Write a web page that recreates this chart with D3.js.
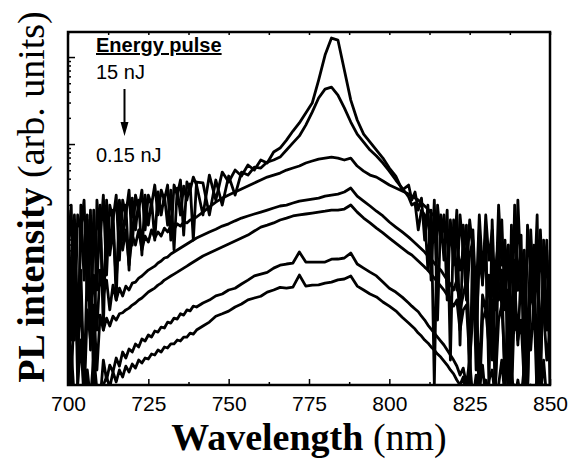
<!DOCTYPE html>
<html>
<head>
<meta charset="utf-8">
<script src="https://cdn.jsdelivr.net/npm/d3@7"></script>
<style>
  body { margin: 0; background: #fff; }
  svg { display: block; }
  .tick text { font-family: "Liberation Sans", Arial, sans-serif; }
</style>
</head>
<body>
<div id="chart"></div>
<script>
// wavelength grid (nm): 1 nm in the noisy wings, 2 nm in the middle
const wavelengths = [700,701,702,703,704,705,706,707,708,709,710,711,712,713,714,715,716,717,718,719,720,
  721,722,723,724,725,726,727,728,729,730,731,732,733,734,735,736,737,738,739,740,
  742,744,746,748,750,752,754,756,758,760,762,764,766,768,770,772,774,776,778,780,
  782,784,786,788,790,792,794,796,798,800,802,804,
  806,807,808,809,810,811,812,813,814,815,816,817,818,819,820,821,822,823,824,825,826,827,828,
  829,830,831,832,833,834,835,836,837,838,839,840,841,842,843,844,845,846,847,848,849,850];

// PL intensity (arb. units), from 15 nJ (curve1) down to 0.15 nJ (curve7)
const curve1 = [6.05,19.9,0.559,15.3,10.3,22.7,1.61,17.4,0.114,22.7,7.88,25.9,3.12,19.9,13.4,25.9,4.64,22.7,15.3,29.6,6.90,
  25.9,17.4,29.6,10.3,25.9,19.9,33.8,15.3,29.6,22.7,33.8,7.88,33.8,25.9,38.6,8.99,36.6,29.6,41.7,33.8,
  15.3,44.0,22.7,47.6,36.6,50.2,42.9,57.4,50.2,65.5,60.5,80.9,90.0,111,141,175,227,296,544,1054,
  1653,1567,709,320,189,130,105,85.3,69.0,53.0,42.9,29.6,
  33.8,22.7,28.1,17.4,23.9,7.88,19.9,2.73,22.7,0.948,15.3,4.64,17.4,0.329,13.4,2.10,15.3,6.05,11.7,0.114,10.3,1.61,15.3,
  3.56,8.99,0.170,13.4,1.24,19.9,4.06,7.88,0.114,11.7,0.728,22.7,2.73,6.05,0.329,10.3,1.61,15.3,0.114,7.88,0.948,4.64];
const curve2 = [17.4,0.948,13.4,0.170,19.9,2.73,15.3,0.429,17.4,2.10,19.9,0.728,22.7,6.05,17.4,1.61,22.7,7.88,19.9,3.56,23.9,
  10.3,22.7,5.30,25.9,11.7,22.7,7.88,28.1,15.3,25.9,11.7,29.6,6.05,31.2,15.3,32.9,22.7,34.7,7.88,36.6,
  35.7,15.3,38.6,19.9,42.9,25.9,47.6,44.0,54.4,53.0,62.1,65.5,70.8,85.3,103,124,165,233,338,428,
  451,366,260,179,130,105,85.3,72.8,60.5,48.9,38.6,31.2,
  24.6,19.9,21.0,10.3,17.4,15.3,3.56,17.4,0.170,19.9,7.88,15.3,1.61,13.4,4.06,17.4,0.490,11.7,2.73,13.4,6.05,0.253,10.3,
  2.39,15.3,4.64,10.3,0.114,7.88,13.4,1.24,6.90,0.429,19.9,2.10,8.99,0.114,11.7,3.56,6.90,0.194,10.3,1.61,7.88,0.170];
const curve3 = [10.3,2.10,15.3,0.429,11.7,4.64,13.4,0.948,10.3,3.56,11.7,1.61,8.99,5.30,10.8,2.73,9.76,6.05,10.3,4.06,8.99,
  6.90,10.3,6.05,8.76,7.47,10.3,8.31,9.76,8.76,10.8,9.76,11.4,10.5,12.1,11.4,12.7,12.4,13.4,13.8,14.5,
  16.5,18.9,21.5,23.9,25.9,28.1,30.4,32.9,35.7,38.6,41.7,44.0,46.4,50.2,53.0,55.9,60.5,63.8,67.2,69.0,
  70.8,69.0,65.5,69.0,55.9,48.9,44.0,41.7,37.6,33.8,31.2,28.8,
  26.6,25.2,23.9,22.7,21.0,19.4,17.9,16.1,14.9,12.7,11.4,10.3,8.76,7.88,6.05,7.47,3.56,6.05,1.61,5.30,7.88,0.728,4.64,
  2.73,6.05,0.329,5.30,3.56,7.88,1.24,4.06,6.90,0.170,4.64,2.10,6.05,3.12,0.114,5.30,1.61,7.88,0.429,4.06,6.05,0.948];
const curve4 = [4.64,0.559,6.05,1.61,3.56,0.170,4.06,1.24,3.12,0.728,3.56,1.84,2.73,1.24,2.39,1.61,2.21,1.79,2.33,2.10,2.52,
  2.59,2.88,3.04,3.29,3.56,3.75,3.95,4.29,4.52,4.90,5.02,5.45,5.74,6.05,6.38,6.72,7.09,7.47,7.88,8.31,
  8.99,9.76,10.5,11.4,12.1,13.1,14.1,14.9,15.7,16.5,17.4,18.4,19.4,19.9,21.0,22.1,22.7,23.3,23.9,25.2,
  25.9,26.6,28.1,31.2,25.2,22.1,19.4,16.9,14.9,12.7,11.1,9.76,
  8.52,7.88,7.28,6.72,6.21,5.74,5.16,4.77,4.29,3.85,3.56,3.12,2.73,2.46,2.10,2.73,1.24,1.84,2.73,0.559,1.61,2.39,0.170,
  1.84,1.24,3.12,0.329,2.10,1.61,3.56,0.114,2.10,0.948,2.73,0.490,3.56,1.61,0.170,2.39,1.24,4.06,0.329,2.10,0.728,2.73];
const curve5 = [2.10,0.170,1.61,0.429,1.84,0.114,1.24,0.559,1.41,0.253,1.08,0.728,0.998,0.809,1.05,0.948,1.12,1.15,1.24,1.30,1.41,
  1.49,1.61,1.70,1.84,1.99,2.10,2.21,2.39,2.52,2.73,2.88,3.04,3.20,3.37,3.56,3.75,3.95,4.18,4.40,4.64,
  5.16,5.59,6.05,6.54,7.09,7.67,8.31,8.99,10.0,11.1,11.7,12.4,13.4,14.1,14.9,15.3,15.7,16.1,16.5,16.9,
  17.4,17.4,17.9,19.9,16.5,14.1,12.4,10.8,9.52,8.31,7.28,6.38,
  5.59,5.30,4.90,4.52,4.18,3.85,3.56,3.20,2.88,2.59,2.33,2.10,1.84,1.61,1.37,1.61,0.728,1.24,1.41,0.329,1.08,1.61,0.114,
  0.948,1.24,0.490,1.61,0.170,0.948,1.41,0.253,1.08,0.114,1.61,0.559,0.948,0.170,1.24,0.429,1.61,0.114,0.831,1.24,0.329,0.728];
const curve6 = [0.114,0.429,0.114,0.170,0.559,0.114,0.253,0.114,0.376,0.149,0.114,0.329,0.194,0.288,0.240,0.347,0.280,0.407,0.347,0.441,0.407,
  0.504,0.465,0.574,0.545,0.638,0.605,0.709,0.690,0.788,0.768,0.899,0.876,0.998,0.972,1.12,1.08,1.24,1.21,1.37,1.34,
  1.49,1.61,1.80,1.89,2.10,2.20,2.46,2.73,3.05,3.20,3.35,3.75,4.05,4.18,4.29,5.74,4.40,4.40,4.40,4.40,
  4.75,4.77,4.90,5.59,4.18,3.75,3.37,3.05,2.59,2.20,1.99,1.74,
  1.49,1.37,1.27,1.18,1.05,0.948,0.831,0.748,0.673,0.605,0.544,0.490,0.429,0.376,0.329,0.281,0.221,0.266,0.170,0.329,0.114,0.221,0.149,
  0.288,0.114,0.194,0.253,0.114,0.170,0.329,0.114,0.149,0.240,0.114,0.194,0.114,0.288,0.114,0.170,0.114,0.204,0.114,0.329,0.114,0.170];
const curve7 = [0.114,0.114,0.149,0.114,0.114,0.170,0.114,0.114,0.194,0.114,0.130,0.170,0.210,0.160,0.240,0.184,0.253,0.210,0.280,0.240,0.296,
  0.266,0.329,0.304,0.347,0.338,0.386,0.376,0.429,0.407,0.465,0.453,0.504,0.504,0.559,0.545,0.605,0.605,0.672,0.655,0.728,
  0.809,0.899,1.05,1.12,1.20,1.34,1.45,1.62,1.70,1.78,1.99,2.10,2.25,2.21,2.27,3.12,2.33,2.39,2.40,2.52,
  2.59,2.75,2.81,3.04,2.33,2.10,1.89,1.75,1.53,1.37,1.21,1.02,
  0.876,0.809,0.748,0.672,0.621,0.559,0.517,0.465,0.429,0.386,0.356,0.320,0.288,0.253,0.228,0.194,0.170,0.210,0.114,0.149,0.114,0.170,0.114,
  0.114,0.194,0.114,0.114,0.149,0.114,0.114,0.158,0.114,0.114,0.170,0.114,0.114,0.221,0.114,0.114,0.149,0.114,0.114,0.170,0.114,0.114];
const curves = [curve1, curve2, curve3, curve4, curve5, curve6, curve7];

const xTicks = [700, 725, 750, 775, 800, 825, 850];
const xMinorTicks = [712.5, 737.5, 762.5, 787.5, 812.5, 837.5];
const yMajorTicks = [1, 10, 100, 1000];
const legendTitle = "Energy pulse";
const legendHigh = "15 nJ";
const legendLow = "0.15 nJ";

const W = 569, H = 461;
const pLeft = 68, pRight = 550, pTop = 32, pBottom = 385;

const svg = d3.select("#chart").append("svg")
  .attr("width", W).attr("height", H);

const x = d3.scaleLinear().domain([700, 850]).range([pLeft, pRight]);
const y = d3.scaleLog().domain([0.17, 1940]).range([pBottom, pTop]);

svg.append("clipPath").attr("id", "plot-clip")
  .append("rect")
  .attr("x", pLeft).attr("y", pTop)
  .attr("width", pRight - pLeft).attr("height", pBottom - pTop);

const line = d3.line()
  .x((d, i) => x(wavelengths[i]))
  .y(d => y(d));

svg.append("g").attr("clip-path", "url(#plot-clip)")
  .selectAll("path")
  .data(curves)
  .enter()
  .append("path")
  .attr("d", line)
  .attr("fill", "none")
  .attr("stroke", "#000")
  .attr("stroke-width", 2.8)
  .attr("stroke-linejoin", "round");

// bottom axis
const xAxis = d3.axisBottom(x).tickValues(xTicks).tickSize(-6).tickPadding(11)
  .tickFormat(d3.format("d"));
const gx = svg.append("g").attr("transform", "translate(0," + pBottom + ")").call(xAxis);
gx.selectAll("text").attr("font-size", 21).attr("fill", "#000");

svg.append("g").attr("transform", "translate(0," + pBottom + ")")
  .call(d3.axisBottom(x).tickValues(xMinorTicks).tickSize(-3).tickFormat(""));

// top axis, small ticks only
svg.append("g").attr("transform", "translate(0," + pTop + ")")
  .call(d3.axisTop(x).tickValues(xTicks.concat(xMinorTicks)).tickSize(-3).tickFormat(""));

// left axis (log), no labels
const yMinor = [];
yMajorTicks.concat([0.1]).forEach(dec => {
  [2, 3, 4, 5, 6, 7, 8, 9].forEach(m => {
    const v = dec * m;
    if (v > 0.17 && v < 1940) yMinor.push(v);
  });
});
svg.append("g").attr("transform", "translate(" + pLeft + ",0)")
  .call(d3.axisLeft(y).tickValues(yMajorTicks).tickSize(-7).tickFormat(""));
svg.append("g").attr("transform", "translate(" + pLeft + ",0)")
  .call(d3.axisLeft(y).tickValues(yMinor).tickSize(-3).tickFormat(""));

svg.selectAll(".domain").remove();
svg.selectAll(".tick line").attr("stroke", "#000").attr("stroke-width", 1.5);

// frame
svg.append("rect")
  .attr("x", pLeft).attr("y", pTop)
  .attr("width", pRight - pLeft).attr("height", pBottom - pTop)
  .attr("fill", "none").attr("stroke", "#000").attr("stroke-width", 2.5);

// legend
svg.append("text")
  .attr("x", 96).attr("y", 52)
  .attr("font-family", "Liberation Sans, Arial, sans-serif")
  .attr("font-size", 20).attr("font-weight", "bold")
  .attr("text-decoration", "underline")
  .text(legendTitle);
svg.append("text")
  .attr("x", 96).attr("y", 79)
  .attr("font-family", "Liberation Sans, Arial, sans-serif")
  .attr("font-size", 20)
  .text(legendHigh);
svg.append("text")
  .attr("x", 96).attr("y", 162)
  .attr("font-family", "Liberation Sans, Arial, sans-serif")
  .attr("font-size", 20)
  .text(legendLow);
svg.append("line")
  .attr("x1", 124.5).attr("x2", 124.5).attr("y1", 89).attr("y2", 124)
  .attr("stroke", "#000").attr("stroke-width", 2);
svg.append("path")
  .attr("d", "M120.5,122 L128.5,122 L124.5,136 Z")
  .attr("fill", "#000");

// axis titles
const xt = svg.append("text")
  .attr("x", (pLeft + pRight) / 2).attr("y", 450)
  .attr("text-anchor", "middle")
  .attr("font-family", "Liberation Serif, Times New Roman, serif")
  .attr("font-size", 38);
xt.append("tspan").attr("font-weight", "bold").text("Wavelength");
xt.append("tspan").text(" (nm)");

const yt = svg.append("text")
  .attr("transform", "translate(44,197) rotate(-90)")
  .attr("text-anchor", "middle")
  .attr("font-family", "Liberation Serif, Times New Roman, serif")
  .attr("font-size", 38);
yt.append("tspan").attr("font-weight", "bold").text("PL intensity");
yt.append("tspan").text(" (arb. units)");
</script>
</body>
</html>
